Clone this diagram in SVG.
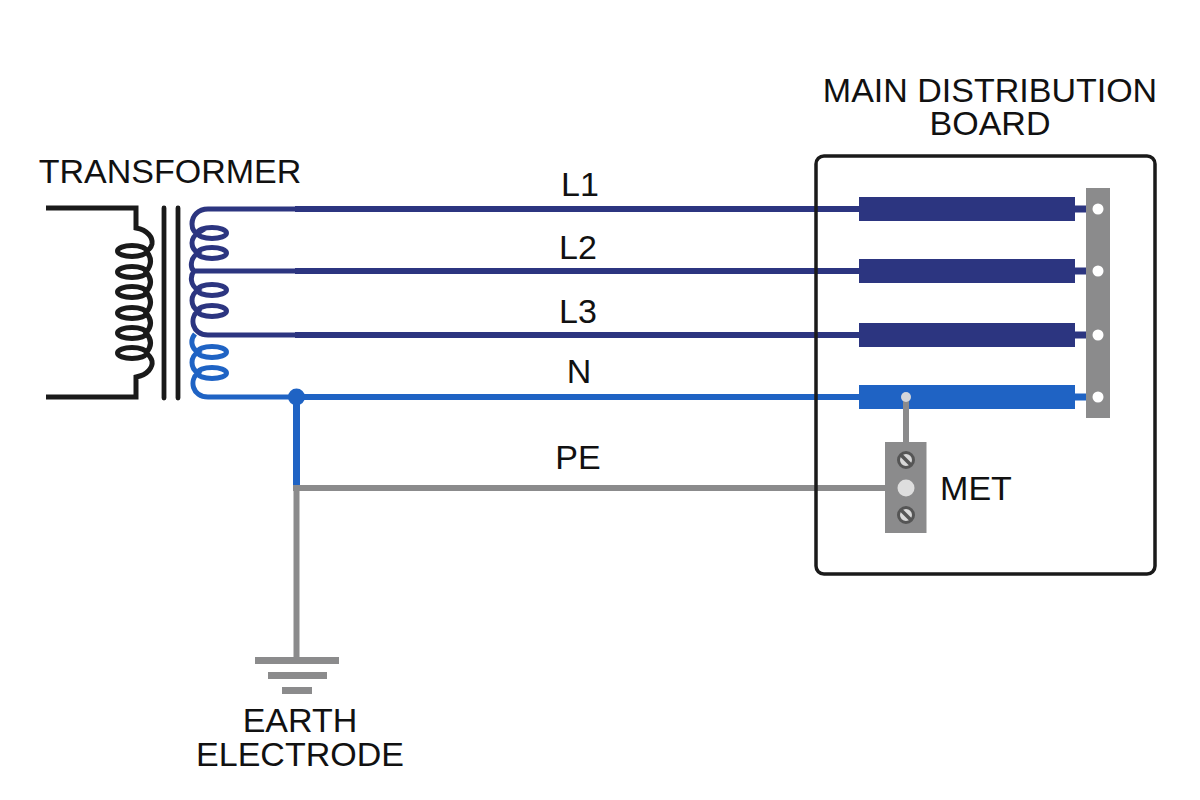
<svg xmlns="http://www.w3.org/2000/svg" width="1200" height="800" viewBox="0 0 1200 800">
<style>
text{font-family:"Liberation Sans",Arial,sans-serif;font-size:34px;fill:#111;text-anchor:middle}
.k{fill:none;stroke:#1a1a1a;stroke-width:5}
.core{fill:none;stroke:#1a1a1a;stroke-width:4.8;stroke-linecap:round}
.d{fill:none;stroke:#2c3580;stroke-width:5}
.b{fill:none;stroke:#1f63c4;stroke-width:5}
.dw{stroke:#2c3580;stroke-width:6;fill:none}
.bw{stroke:#1f63c4;stroke-width:6;fill:none}
.st{stroke-width:7}
.g{stroke:#8b8b8c;stroke-width:6;fill:none}
.barD{fill:#2c3580}.barB{fill:#1f63c4}.gf{fill:#8b8b8c}
.hole{fill:#fff}
.screw{fill:#d8d8d8;stroke:#555;stroke-width:3}
</style>
<rect width="1200" height="800" fill="#fff"/>
<g id="connectors">
<path class="dw" d="M295 209H860M295 271H860M295 335H860"/>
<path class="bw" d="M295 397H860"/>
<path class="dw st" d="M1074 209H1088M1074 271H1088M1074 335H1088"/>
<path class="bw st" d="M1074 397H1088"/>
<path class="g st" d="M296.500 485V658"/>
<path class="bw st" d="M296.500 397V485"/>
<path class="g" d="M293 488H886"/>
<path class="g st" d="M906 397V443"/>
</g>
<g id="transformer">
<path class="k" d="M46 208H136V228C148 230 153 238 152 244C151 248 149 250 146 251"/>
<g class="k">
<ellipse cx="132" cy="251" rx="14.500" ry="5.500"/>
<ellipse cx="132" cy="272" rx="14.500" ry="5.500"/>
<ellipse cx="132" cy="292" rx="14.500" ry="5.500"/>
<ellipse cx="132" cy="313" rx="14.500" ry="5.500"/>
<ellipse cx="132" cy="333" rx="14.500" ry="5.500"/>
<ellipse cx="132" cy="353" rx="14.500" ry="5.500"/>
</g>
<path class="k" d="M146 251Q155 261 146 272Q155 282 146 292Q155 302 146 313Q155 323 146 333Q155 343 146 353"/>
<path class="k" d="M46 397H136V377C148 375 153 367 152 361C151 357 149 355 146 353"/>
<path class="core" d="M164 208V398M178 208V398"/>
<g class="d">
<ellipse cx="212" cy="233" rx="14.500" ry="5.500"/>
<ellipse cx="212" cy="253" rx="14.500" ry="5.500"/>
<ellipse cx="212" cy="290" rx="14.500" ry="5.500"/>
<ellipse cx="212" cy="311" rx="14.500" ry="5.500"/>
</g>
<path class="d" d="M297 209H208C198 209 192 216 192 224C192 230 195 233 198 233C190 238 190 248 198 253C190 258 190 268 194 271H297M194 271C190 276 190 285 198 290C190 295 190 306 198 311C189 318 192 335 208 335H297"/>
<g class="b">
<ellipse cx="212" cy="352" rx="14.500" ry="5.500"/>
<ellipse cx="212" cy="373" rx="14.500" ry="5.500"/>
</g>
<path class="b" d="M195 334C190 340 191 348 198 352C190 357 190 368 198 373C189 380 192 397 208 397H297"/>
<circle cx="296.500" cy="397" r="8.500" fill="#1f63c4"/>
<text x="170" y="183">TRANSFORMER</text>
</g>
<g id="board">
<rect x="816" y="156" width="339" height="418" rx="8" fill="none" stroke="#1a1a1a" stroke-width="3.500"/>
<text><tspan x="990" y="102">MAIN DISTRIBUTION</tspan><tspan x="990" y="135">BOARD</tspan></text>
</g>
<g id="busbars">
<rect class="barD" x="859" y="197" width="216" height="24"/>
<rect class="barD" x="859" y="259" width="216" height="24"/>
<rect class="barD" x="859" y="323" width="216" height="24"/>
<rect class="barB" x="859" y="385" width="216" height="24"/>
<path class="g st" d="M906 397V409"/>
<circle cx="906" cy="397" r="5" fill="#d4d6da"/>
</g>
<g id="terminal-strip">
<rect class="gf" x="1086" y="188" width="24" height="230"/>
<circle class="hole" cx="1098" cy="209" r="5.500"/>
<circle class="hole" cx="1098" cy="271" r="5.500"/>
<circle class="hole" cx="1098" cy="335" r="5.500"/>
<circle class="hole" cx="1098" cy="397" r="5.500"/>
</g>
<g id="met">
<rect class="gf" x="885" y="442" width="41.500" height="91"/>
<circle class="screw" cx="906" cy="460" r="7.500"/>
<path d="M901 455L911 465" stroke="#555" stroke-width="3.500"/>
<circle cx="906" cy="488" r="8.500" fill="#dedede"/>
<circle class="screw" cx="906" cy="515" r="7.500"/>
<path d="M901 510L911 520" stroke="#555" stroke-width="3.500"/>
<text x="976" y="500">MET</text>
</g>
<g id="earth-electrode">
<rect class="gf" x="255" y="657" width="84" height="7"/>
<rect class="gf" x="268" y="672" width="59" height="7"/>
<rect class="gf" x="282" y="687" width="30" height="7"/>
<text><tspan x="300" y="732">EARTH</tspan><tspan x="300" y="766">ELECTRODE</tspan></text>
</g>
<g id="labels">
<text x="580" y="196">L1</text>
<text x="578" y="259">L2</text>
<text x="578" y="323">L3</text>
<text x="579" y="383">N</text>
<text x="578" y="469">PE</text>
</g>
</svg>
